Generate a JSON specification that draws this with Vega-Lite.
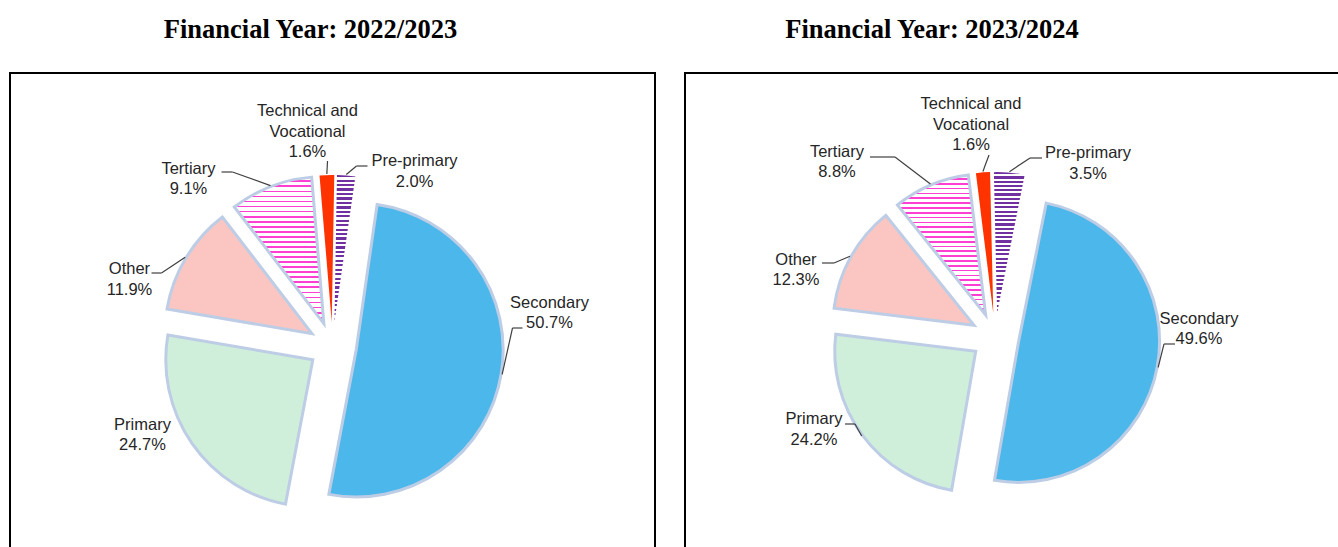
{
  "$schema": "https://vega.github.io/schema/vega-lite/v6.json",
  "background": "white",
  "padding": {"left": 9, "top": 15, "right": 0, "bottom": 0},
  "params": [
    {"name": "purpleStripes", "value": {"gradient": "linear", "x1": 0, "y1": 0, "x2": 0, "y2": 1, "stops": [
      {"offset": 0, "color": "#7030a0"}, {"offset": 0.0152, "color": "#7030a0"}, {"offset": 0.0152, "color": "#ffffff"}, {"offset": 0.0303, "color": "#ffffff"},
      {"offset": 0.0303, "color": "#7030a0"}, {"offset": 0.0455, "color": "#7030a0"}, {"offset": 0.0455, "color": "#ffffff"}, {"offset": 0.0606, "color": "#ffffff"},
      {"offset": 0.0606, "color": "#7030a0"}, {"offset": 0.0758, "color": "#7030a0"}, {"offset": 0.0758, "color": "#ffffff"}, {"offset": 0.0909, "color": "#ffffff"},
      {"offset": 0.0909, "color": "#7030a0"}, {"offset": 0.1061, "color": "#7030a0"}, {"offset": 0.1061, "color": "#ffffff"}, {"offset": 0.1212, "color": "#ffffff"},
      {"offset": 0.1212, "color": "#7030a0"}, {"offset": 0.1364, "color": "#7030a0"}, {"offset": 0.1364, "color": "#ffffff"}, {"offset": 0.1515, "color": "#ffffff"},
      {"offset": 0.1515, "color": "#7030a0"}, {"offset": 0.1667, "color": "#7030a0"}, {"offset": 0.1667, "color": "#ffffff"}, {"offset": 0.1818, "color": "#ffffff"},
      {"offset": 0.1818, "color": "#7030a0"}, {"offset": 0.197, "color": "#7030a0"}, {"offset": 0.197, "color": "#ffffff"}, {"offset": 0.2121, "color": "#ffffff"},
      {"offset": 0.2121, "color": "#7030a0"}, {"offset": 0.2273, "color": "#7030a0"}, {"offset": 0.2273, "color": "#ffffff"}, {"offset": 0.2424, "color": "#ffffff"},
      {"offset": 0.2424, "color": "#7030a0"}, {"offset": 0.2576, "color": "#7030a0"}, {"offset": 0.2576, "color": "#ffffff"}, {"offset": 0.2727, "color": "#ffffff"},
      {"offset": 0.2727, "color": "#7030a0"}, {"offset": 0.2879, "color": "#7030a0"}, {"offset": 0.2879, "color": "#ffffff"}, {"offset": 0.303, "color": "#ffffff"},
      {"offset": 0.303, "color": "#7030a0"}, {"offset": 0.3182, "color": "#7030a0"}, {"offset": 0.3182, "color": "#ffffff"}, {"offset": 0.3333, "color": "#ffffff"},
      {"offset": 0.3333, "color": "#7030a0"}, {"offset": 0.3485, "color": "#7030a0"}, {"offset": 0.3485, "color": "#ffffff"}, {"offset": 0.3636, "color": "#ffffff"},
      {"offset": 0.3636, "color": "#7030a0"}, {"offset": 0.3788, "color": "#7030a0"}, {"offset": 0.3788, "color": "#ffffff"}, {"offset": 0.3939, "color": "#ffffff"},
      {"offset": 0.3939, "color": "#7030a0"}, {"offset": 0.4091, "color": "#7030a0"}, {"offset": 0.4091, "color": "#ffffff"}, {"offset": 0.4242, "color": "#ffffff"},
      {"offset": 0.4242, "color": "#7030a0"}, {"offset": 0.4394, "color": "#7030a0"}, {"offset": 0.4394, "color": "#ffffff"}, {"offset": 0.4545, "color": "#ffffff"},
      {"offset": 0.4545, "color": "#7030a0"}, {"offset": 0.4697, "color": "#7030a0"}, {"offset": 0.4697, "color": "#ffffff"}, {"offset": 0.4848, "color": "#ffffff"},
      {"offset": 0.4848, "color": "#7030a0"}, {"offset": 0.5, "color": "#7030a0"}, {"offset": 0.5, "color": "#ffffff"}, {"offset": 0.5152, "color": "#ffffff"},
      {"offset": 0.5152, "color": "#7030a0"}, {"offset": 0.5303, "color": "#7030a0"}, {"offset": 0.5303, "color": "#ffffff"}, {"offset": 0.5455, "color": "#ffffff"},
      {"offset": 0.5455, "color": "#7030a0"}, {"offset": 0.5606, "color": "#7030a0"}, {"offset": 0.5606, "color": "#ffffff"}, {"offset": 0.5758, "color": "#ffffff"},
      {"offset": 0.5758, "color": "#7030a0"}, {"offset": 0.5909, "color": "#7030a0"}, {"offset": 0.5909, "color": "#ffffff"}, {"offset": 0.6061, "color": "#ffffff"},
      {"offset": 0.6061, "color": "#7030a0"}, {"offset": 0.6212, "color": "#7030a0"}, {"offset": 0.6212, "color": "#ffffff"}, {"offset": 0.6364, "color": "#ffffff"},
      {"offset": 0.6364, "color": "#7030a0"}, {"offset": 0.6515, "color": "#7030a0"}, {"offset": 0.6515, "color": "#ffffff"}, {"offset": 0.6667, "color": "#ffffff"},
      {"offset": 0.6667, "color": "#7030a0"}, {"offset": 0.6818, "color": "#7030a0"}, {"offset": 0.6818, "color": "#ffffff"}, {"offset": 0.697, "color": "#ffffff"},
      {"offset": 0.697, "color": "#7030a0"}, {"offset": 0.7121, "color": "#7030a0"}, {"offset": 0.7121, "color": "#ffffff"}, {"offset": 0.7273, "color": "#ffffff"},
      {"offset": 0.7273, "color": "#7030a0"}, {"offset": 0.7424, "color": "#7030a0"}, {"offset": 0.7424, "color": "#ffffff"}, {"offset": 0.7576, "color": "#ffffff"},
      {"offset": 0.7576, "color": "#7030a0"}, {"offset": 0.7727, "color": "#7030a0"}, {"offset": 0.7727, "color": "#ffffff"}, {"offset": 0.7879, "color": "#ffffff"},
      {"offset": 0.7879, "color": "#7030a0"}, {"offset": 0.803, "color": "#7030a0"}, {"offset": 0.803, "color": "#ffffff"}, {"offset": 0.8182, "color": "#ffffff"},
      {"offset": 0.8182, "color": "#7030a0"}, {"offset": 0.8333, "color": "#7030a0"}, {"offset": 0.8333, "color": "#ffffff"}, {"offset": 0.8485, "color": "#ffffff"},
      {"offset": 0.8485, "color": "#7030a0"}, {"offset": 0.8636, "color": "#7030a0"}, {"offset": 0.8636, "color": "#ffffff"}, {"offset": 0.8788, "color": "#ffffff"},
      {"offset": 0.8788, "color": "#7030a0"}, {"offset": 0.8939, "color": "#7030a0"}, {"offset": 0.8939, "color": "#ffffff"}, {"offset": 0.9091, "color": "#ffffff"},
      {"offset": 0.9091, "color": "#7030a0"}, {"offset": 0.9242, "color": "#7030a0"}, {"offset": 0.9242, "color": "#ffffff"}, {"offset": 0.9394, "color": "#ffffff"},
      {"offset": 0.9394, "color": "#7030a0"}, {"offset": 0.9545, "color": "#7030a0"}, {"offset": 0.9545, "color": "#ffffff"}, {"offset": 0.9697, "color": "#ffffff"},
      {"offset": 0.9697, "color": "#7030a0"}, {"offset": 0.9848, "color": "#7030a0"}, {"offset": 0.9848, "color": "#ffffff"}, {"offset": 1, "color": "#ffffff"}
    ]}},
    {"name": "pinkStripes", "value": {"gradient": "linear", "x1": 0, "y1": 0, "x2": 0, "y2": 1, "stops": [
      {"offset": 0, "color": "#ffffff"}, {"offset": 0.0224, "color": "#ffffff"}, {"offset": 0.0224, "color": "#ff3fd2"}, {"offset": 0.0345, "color": "#ff3fd2"},
      {"offset": 0.0345, "color": "#ffffff"}, {"offset": 0.0569, "color": "#ffffff"}, {"offset": 0.0569, "color": "#ff3fd2"}, {"offset": 0.069, "color": "#ff3fd2"},
      {"offset": 0.069, "color": "#ffffff"}, {"offset": 0.0914, "color": "#ffffff"}, {"offset": 0.0914, "color": "#ff3fd2"}, {"offset": 0.1034, "color": "#ff3fd2"},
      {"offset": 0.1034, "color": "#ffffff"}, {"offset": 0.1259, "color": "#ffffff"}, {"offset": 0.1259, "color": "#ff3fd2"}, {"offset": 0.1379, "color": "#ff3fd2"},
      {"offset": 0.1379, "color": "#ffffff"}, {"offset": 0.1603, "color": "#ffffff"}, {"offset": 0.1603, "color": "#ff3fd2"}, {"offset": 0.1724, "color": "#ff3fd2"},
      {"offset": 0.1724, "color": "#ffffff"}, {"offset": 0.1948, "color": "#ffffff"}, {"offset": 0.1948, "color": "#ff3fd2"}, {"offset": 0.2069, "color": "#ff3fd2"},
      {"offset": 0.2069, "color": "#ffffff"}, {"offset": 0.2293, "color": "#ffffff"}, {"offset": 0.2293, "color": "#ff3fd2"}, {"offset": 0.2414, "color": "#ff3fd2"},
      {"offset": 0.2414, "color": "#ffffff"}, {"offset": 0.2638, "color": "#ffffff"}, {"offset": 0.2638, "color": "#ff3fd2"}, {"offset": 0.2759, "color": "#ff3fd2"},
      {"offset": 0.2759, "color": "#ffffff"}, {"offset": 0.2983, "color": "#ffffff"}, {"offset": 0.2983, "color": "#ff3fd2"}, {"offset": 0.3103, "color": "#ff3fd2"},
      {"offset": 0.3103, "color": "#ffffff"}, {"offset": 0.3328, "color": "#ffffff"}, {"offset": 0.3328, "color": "#ff3fd2"}, {"offset": 0.3448, "color": "#ff3fd2"},
      {"offset": 0.3448, "color": "#ffffff"}, {"offset": 0.3672, "color": "#ffffff"}, {"offset": 0.3672, "color": "#ff3fd2"}, {"offset": 0.3793, "color": "#ff3fd2"},
      {"offset": 0.3793, "color": "#ffffff"}, {"offset": 0.4017, "color": "#ffffff"}, {"offset": 0.4017, "color": "#ff3fd2"}, {"offset": 0.4138, "color": "#ff3fd2"},
      {"offset": 0.4138, "color": "#ffffff"}, {"offset": 0.4362, "color": "#ffffff"}, {"offset": 0.4362, "color": "#ff3fd2"}, {"offset": 0.4483, "color": "#ff3fd2"},
      {"offset": 0.4483, "color": "#ffffff"}, {"offset": 0.4707, "color": "#ffffff"}, {"offset": 0.4707, "color": "#ff3fd2"}, {"offset": 0.4828, "color": "#ff3fd2"},
      {"offset": 0.4828, "color": "#ffffff"}, {"offset": 0.5052, "color": "#ffffff"}, {"offset": 0.5052, "color": "#ff3fd2"}, {"offset": 0.5172, "color": "#ff3fd2"},
      {"offset": 0.5172, "color": "#ffffff"}, {"offset": 0.5397, "color": "#ffffff"}, {"offset": 0.5397, "color": "#ff3fd2"}, {"offset": 0.5517, "color": "#ff3fd2"},
      {"offset": 0.5517, "color": "#ffffff"}, {"offset": 0.5741, "color": "#ffffff"}, {"offset": 0.5741, "color": "#ff3fd2"}, {"offset": 0.5862, "color": "#ff3fd2"},
      {"offset": 0.5862, "color": "#ffffff"}, {"offset": 0.6086, "color": "#ffffff"}, {"offset": 0.6086, "color": "#ff3fd2"}, {"offset": 0.6207, "color": "#ff3fd2"},
      {"offset": 0.6207, "color": "#ffffff"}, {"offset": 0.6431, "color": "#ffffff"}, {"offset": 0.6431, "color": "#ff3fd2"}, {"offset": 0.6552, "color": "#ff3fd2"},
      {"offset": 0.6552, "color": "#ffffff"}, {"offset": 0.6776, "color": "#ffffff"}, {"offset": 0.6776, "color": "#ff3fd2"}, {"offset": 0.6897, "color": "#ff3fd2"},
      {"offset": 0.6897, "color": "#ffffff"}, {"offset": 0.7121, "color": "#ffffff"}, {"offset": 0.7121, "color": "#ff3fd2"}, {"offset": 0.7241, "color": "#ff3fd2"},
      {"offset": 0.7241, "color": "#ffffff"}, {"offset": 0.7466, "color": "#ffffff"}, {"offset": 0.7466, "color": "#ff3fd2"}, {"offset": 0.7586, "color": "#ff3fd2"},
      {"offset": 0.7586, "color": "#ffffff"}, {"offset": 0.781, "color": "#ffffff"}, {"offset": 0.781, "color": "#ff3fd2"}, {"offset": 0.7931, "color": "#ff3fd2"},
      {"offset": 0.7931, "color": "#ffffff"}, {"offset": 0.8155, "color": "#ffffff"}, {"offset": 0.8155, "color": "#ff3fd2"}, {"offset": 0.8276, "color": "#ff3fd2"},
      {"offset": 0.8276, "color": "#ffffff"}, {"offset": 0.85, "color": "#ffffff"}, {"offset": 0.85, "color": "#ff3fd2"}, {"offset": 0.8621, "color": "#ff3fd2"},
      {"offset": 0.8621, "color": "#ffffff"}, {"offset": 0.8845, "color": "#ffffff"}, {"offset": 0.8845, "color": "#ff3fd2"}, {"offset": 0.8966, "color": "#ff3fd2"},
      {"offset": 0.8966, "color": "#ffffff"}, {"offset": 0.919, "color": "#ffffff"}, {"offset": 0.919, "color": "#ff3fd2"}, {"offset": 0.931, "color": "#ff3fd2"},
      {"offset": 0.931, "color": "#ffffff"}, {"offset": 0.9534, "color": "#ffffff"}, {"offset": 0.9534, "color": "#ff3fd2"}, {"offset": 0.9655, "color": "#ff3fd2"},
      {"offset": 0.9655, "color": "#ffffff"}, {"offset": 0.9879, "color": "#ffffff"}, {"offset": 0.9879, "color": "#ff3fd2"}, {"offset": 1, "color": "#ff3fd2"}
    ]}}
  ],
  "datasets": {
    "fy2022_23": [
      {"ord": 1, "name": "Secondary", "share": 0.507},
      {"ord": 2, "name": "Primary", "share": 0.247},
      {"ord": 3, "name": "Other", "share": 0.119},
      {"ord": 4, "name": "Tertiary", "share": 0.091},
      {"ord": 5, "name": "Technical and\nVocational", "share": 0.016},
      {"ord": 6, "name": "Pre-primary", "share": 0.020}
    ],
    "fy2023_24": [
      {"ord": 1, "name": "Secondary", "share": 0.496},
      {"ord": 2, "name": "Primary", "share": 0.242},
      {"ord": 3, "name": "Other", "share": 0.123},
      {"ord": 4, "name": "Tertiary", "share": 0.088},
      {"ord": 5, "name": "Technical and\nVocational", "share": 0.016},
      {"ord": 6, "name": "Pre-primary", "share": 0.035}
    ]
  },
  "spacing": 28,
  "resolve": {"scale": {"theta": "independent", "color": "independent"}},
  "hconcat": [
    {
      "width": 645,
      "height": 546,
      "title": {"text": "Financial Year: 2022/2023", "font": "Liberation Serif", "fontSize": 26.5, "fontWeight": "bold", "color": "#000000", "anchor": "middle", "frame": "group", "dx": -22, "offset": 30},
      "data": {"name": "fy2022_23"},
      "layer": [
        {
          "encoding": {
            "theta": {"field": "share", "type": "quantitative", "stack": true, "scale": {"domain": [0, 1], "range": [0.1431, 6.4263]}},
            "order": {"field": "ord", "type": "quantitative", "sort": "ascending"}
          },
          "layer": [
            {
              "mark": {"type": "arc", "radius": 147, "stroke": "#BDCDE5",
                "xOffset": {"expr": "24*sin(0.1431+PI*(datum.share_start+datum.share_end))"},
                "yOffset": {"expr": "-24*cos(0.1431+PI*(datum.share_start+datum.share_end))"}},
              "encoding": {
                "color": {"condition": [{"test": "datum.ord === 6", "value": {"expr": "purpleStripes"}}, {"test": "datum.ord === 4", "value": {"expr": "pinkStripes"}}], "field": "ord", "type": "ordinal", "scale": {"domain": [1, 2, 3, 4, 5, 6], "range": ["#4CB7EA", "#D0EFDB", "#FBC6C2", "#FFBDEC", "#FF3300", "#7030A0"]}, "legend": null},
                "strokeWidth": {"condition": {"test": "datum.ord >= 5", "value": 0}, "value": 3}
              }
            },
            {
              "mark": {"type": "text", "radius": 205, "font": "Liberation Sans", "fontSize": 16.5, "color": "#262626", "align": "center", "baseline": "bottom", "lineBreak": "\n", "lineHeight": 20.5,
                "dx": {"expr": "[14.8,-21.7,-27.4,-70.1,-18.3,65.6][datum.ord-1]"},
                "dy": {"expr": "[-67.7,-29.1,38.3,23.2,-20.6,28.8][datum.ord-1] - 1.25"}},
              "encoding": {"text": {"field": "name", "type": "nominal"}}
            },
            {
              "mark": {"type": "text", "radius": 205, "font": "Liberation Sans", "fontSize": 16.5, "color": "#262626", "align": "center", "baseline": "top",
                "dx": {"expr": "[14.8,-21.7,-27.4,-70.1,-18.3,65.6][datum.ord-1]"},
                "dy": {"expr": "[-67.7,-29.1,38.3,23.2,-0.1,28.8][datum.ord-1] + 3.25"}},
              "encoding": {"text": {"field": "share", "type": "quantitative", "format": ".1%"}}
            }
          ]
        },
        {
          "transform": [
            {"stack": "share", "groupby": [], "sort": [{"field": "ord", "order": "ascending"}], "as": ["s0", "s1"]},
            {"filter": "datum.ord != 2"}
          ],
          "mark": {"type": "rule", "color": "#404040", "strokeWidth": 1.2},
          "encoding": {
            "x": {"value": {"expr": "322.5 + 172*sin(0.1431+PI*(datum.s0+datum.s1))"}},
            "y": {"value": {"expr": "273 - 172*cos(0.1431+PI*(datum.s0+datum.s1))"}},
            "x2": {"value": {"expr": "322.5 + [180,0,-171,-100,-5,24][datum.ord-1]"}},
            "y2": {"value": {"expr": "273 + [-18,0,-73,-174,-185,-180][datum.ord-1]"}}
          }
        },
        {
          "transform": [
            {"filter": "datum.ord != 2 && datum.ord != 5"}
          ],
          "mark": {"type": "rule", "color": "#404040", "strokeWidth": 1.2},
          "encoding": {
            "x": {"value": {"expr": "322.5 + [180,0,-171,-100,-5,24][datum.ord-1]"}},
            "y": {"value": {"expr": "273 + [-18,0,-73,-174,-185,-180][datum.ord-1]"}},
            "x2": {"value": {"expr": "322.5 + [190,0,-181,-111,-5,35][datum.ord-1]"}},
            "y2": {"value": {"expr": "273 + [-18,0,-73,-174,-185,-180][datum.ord-1]"}}
          }
        }
      ]
    },
    {
      "width": 700,
      "height": 528,
      "title": {"text": "Financial Year: 2023/2024", "font": "Liberation Serif", "fontSize": 26.5, "fontWeight": "bold", "color": "#000000", "anchor": "middle", "frame": "group", "dx": -103, "offset": 30},
      "data": {"name": "fy2023_24"},
      "layer": [
        {
          "encoding": {
            "theta": {"field": "share", "type": "quantitative", "stack": true, "scale": {"domain": [0, 1], "range": [0.1972, 6.4804]}},
            "order": {"field": "ord", "type": "quantitative", "sort": "ascending"}
          },
          "layer": [
            {
              "mark": {"type": "arc", "radius": 141, "stroke": "#BDCDE5",
                "x": 310,
                "xOffset": {"expr": "24*sin(0.1972+PI*(datum.share_start+datum.share_end))"},
                "yOffset": {"expr": "-24*cos(0.1972+PI*(datum.share_start+datum.share_end))"}},
              "encoding": {
                "color": {"condition": [{"test": "datum.ord === 6", "value": {"expr": "purpleStripes"}}, {"test": "datum.ord === 4", "value": {"expr": "pinkStripes"}}], "field": "ord", "type": "ordinal", "scale": {"domain": [1, 2, 3, 4, 5, 6], "range": ["#4CB7EA", "#D0EFDB", "#FBC6C2", "#FFBDEC", "#FF3300", "#7030A0"]}, "legend": null},
                "strokeWidth": {"condition": {"test": "datum.ord >= 5", "value": 0}, "value": 3}
              }
            },
            {
              "mark": {"type": "text", "radius": 200, "font": "Liberation Sans", "fontSize": 16.5, "color": "#262626", "align": "center", "baseline": "bottom", "lineBreak": "\n", "lineHeight": 20.5,
                "x": 310,
                "dx": {"expr": "[7.4,-20.4,-24.3,-80.2,-9.4,75.6][datum.ord-1]"},
                "dy": {"expr": "[-45.7,-27.7,29.3,8.2,-24,24.7][datum.ord-1] - 1.25"}},
              "encoding": {"text": {"field": "name", "type": "nominal"}}
            },
            {
              "mark": {"type": "text", "radius": 200, "font": "Liberation Sans", "fontSize": 16.5, "color": "#262626", "align": "center", "baseline": "top",
                "x": 310,
                "dx": {"expr": "[7.4,-20.4,-24.3,-80.2,-9.4,75.6][datum.ord-1]"},
                "dy": {"expr": "[-45.7,-27.7,29.3,8.2,-3.5,24.7][datum.ord-1] + 3.25"}},
              "encoding": {"text": {"field": "share", "type": "quantitative", "format": ".1%"}}
            }
          ]
        },
        {
          "transform": [
            {"stack": "share", "groupby": [], "sort": [{"field": "ord", "order": "ascending"}], "as": ["s0", "s1"]}
          ],
          "mark": {"type": "rule", "color": "#404040", "strokeWidth": 1.2},
          "encoding": {
            "x": {"value": {"expr": "310 + 166*sin(0.1972+PI*(datum.s0+datum.s1))"}},
            "y": {"value": {"expr": "264 - 166*cos(0.1972+PI*(datum.s0+datum.s1))"}},
            "x2": {"value": {"expr": "310 + [169,-140,-161,-100,-6,35][datum.ord-1]"}},
            "y2": {"value": {"expr": "264 + [7,87,-74,-180,-182,-179][datum.ord-1]"}}
          }
        },
        {
          "transform": [
            {"filter": "datum.ord != 5"}
          ],
          "mark": {"type": "rule", "color": "#404040", "strokeWidth": 1.2},
          "encoding": {
            "x": {"value": {"expr": "310 + [169,-140,-161,-100,-6,35][datum.ord-1]"}},
            "y": {"value": {"expr": "264 + [7,87,-74,-180,-182,-179][datum.ord-1]"}},
            "x2": {"value": {"expr": "310 + [180,-150,-173,-125,-6,47][datum.ord-1]"}},
            "y2": {"value": {"expr": "264 + [7,87,-74,-180,-182,-179][datum.ord-1]"}}
          }
        }
      ]
    }
  ],
  "config": {
    "view": {"stroke": "#000000", "strokeWidth": 2}
  }
}
